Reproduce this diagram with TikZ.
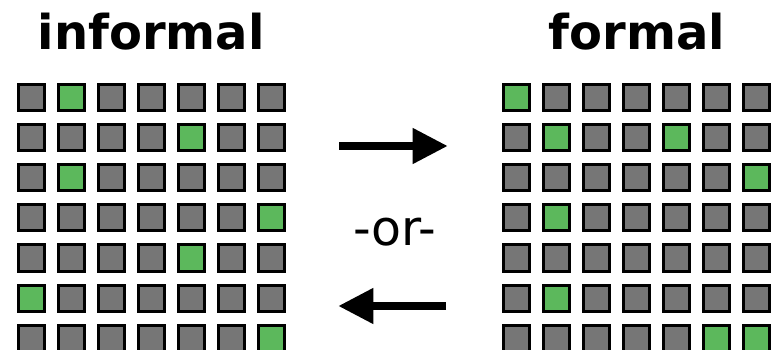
\documentclass[tikz,border=0pt]{standalone}
\usepackage{fontspec}
\setmainfont{DejaVu Sans}
\usetikzlibrary{arrows.meta}
\definecolor{cellgray}{RGB}{118,118,118}
\definecolor{cellgreen}{RGB}{92,184,92}
\tikzset{
  cell/.style={draw=black, line width=3pt, fill=cellgray, minimum size=26pt,
    inner sep=0pt, outer sep=0pt},
  hit/.style={cell, fill=cellgreen},
  title/.style={font=\bfseries\fontsize{48}{50}\selectfont, anchor=base},
  bigarrow/.style={line width=7.5pt, -{Triangle[length=35pt,width=34pt]}},
}
\begin{document}
\begin{tikzpicture}[x=1pt,y=-1pt]
  \useasboundingbox (0,0) rectangle (780,350);
  \begin{scope}
    \clip (0,0) rectangle (780,350);
    % informal grid: green cells listed as row/column
    \foreach \r/\g in {0/1,1/4,2/1,3/6,4/4,5/0,6/6} {
      \foreach \c in {0,...,6} {
        \ifnum\c=\g
          \node[hit] (L\r\c) at (31.2+40*\c, 98+40*\r) {};
        \else
          \node[cell] (L\r\c) at (31.2+40*\c, 98+40*\r) {};
        \fi
      }
    }
    % formal grid
    \foreach \r in {0,...,6} {
      \foreach \c in {0,...,6} {
        \node[cell] (R\r\c) at (516.8+40*\c, 98+40*\r) {};
      }
    }
    \foreach \r/\c in {0/0,1/1,1/4,2/6,3/1,5/1,6/5,6/6} {
      \node[hit] at (R\r\c) {};
    }
  \end{scope}
  \node[title] (tinf) at (151.3,50) {informal};
  \node[title] (tfor) at (637,50) {formal};
  \node[font=\fontsize{49}{51}\selectfont, anchor=base] (or) at (395,246) {-or-};
  \coordinate (ra) at (339,146);
  \coordinate (rb) at (447.7,146);
  \coordinate (la) at (446,306);
  \coordinate (lb) at (338.3,306);
  \draw[bigarrow] (ra) -- (rb);
  \draw[bigarrow] (la) -- (lb);
\end{tikzpicture}
\end{document}
